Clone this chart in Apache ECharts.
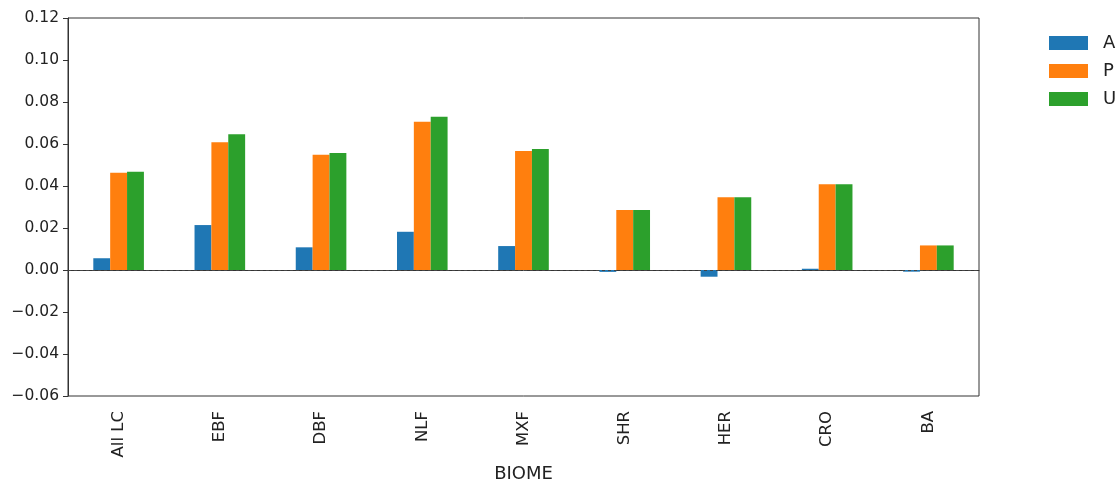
<!DOCTYPE html>
<html>
<head>
<meta charset="utf-8">
<script src="https://cdn.jsdelivr.net/npm/echarts@6/dist/echarts.min.js"></script>
<style>
  html, body { margin: 0; padding: 0; background: #fff; }
  #chart { width: 1118px; height: 479px; }
</style>
</head>
<body>
<div id="chart"></div>
<script>
// Biome categories along the x axis
const biomes = ['All LC', 'EBF', 'DBF', 'NLF', 'MXF', 'SHR', 'HER', 'CRO', 'BA'];

// Series values per biome
const seriesA = [0.0056, 0.0214, 0.0108, 0.0182, 0.0114, -0.0009, -0.0032, 0.0006, -0.0008];
const seriesP = [0.0463, 0.0608, 0.0549, 0.0706, 0.0567, 0.0286, 0.0346, 0.0408, 0.0117];
const seriesU = [0.0468, 0.0646, 0.0557, 0.0730, 0.0576, 0.0286, 0.0346, 0.0408, 0.0117];

const seriesNames = ['A', 'P', 'U'];
const seriesColors = ['#1f77b4', '#ff7f0e', '#2ca02c'];

const font = 'DejaVu Sans';
const chart = echarts.init(document.getElementById('chart'), null, { renderer: 'canvas' });

const makeBar = (name, data, color, withZero) => {
  const s = {
    name: name,
    type: 'bar',
    data: data,
    barGap: '0%',
    barCategoryGap: '50%',
    itemStyle: { color: color },
    emphasis: { disabled: true },
    animation: false
  };
  if (withZero) {
    s.markLine = {
      silent: true,
      symbol: ['none', 'none'],
      label: { show: false },
      lineStyle: { type: [3, 3], color: '#444', width: 1 },
      data: [{ yAxis: 0 }],
      animation: false
    };
  }
  return s;
};

chart.setOption({
  animation: false,
  backgroundColor: '#ffffff',
  grid: {
    left: 68, right: 139, top: 18, bottom: 83,
    outerBoundsMode: 'none',
    containLabel: false,
    show: true, borderColor: '#333', borderWidth: 1, backgroundColor: 'transparent'
  },
  legend: {
    orient: 'vertical',
    left: 1049, top: 34,
    padding: 0,
    itemWidth: 39, itemHeight: 14, itemGap: 10,
    icon: 'rect',
    data: seriesNames,
    textStyle: { fontFamily: font, fontSize: 18, color: '#222', padding: [0, 0, 0, 10] }
  },
  xAxis: {
    type: 'category',
    data: biomes,
    name: 'BIOME',
    nameLocation: 'middle',
    nameGap: 66,
    nameTextStyle: { fontFamily: font, fontSize: 18, color: '#222' },
    axisLine: { lineStyle: { color: '#333', width: 1 } },
    axisTick: { alignWithLabel: true, length: 5, lineStyle: { color: '#333' } },
    axisLabel: { rotate: 90, margin: 15, fontFamily: font, fontSize: 16.5, color: '#222' }
  },
  yAxis: {
    type: 'value',
    min: -0.06, max: 0.12, interval: 0.02,
    axisLine: { show: true, onZero: false, lineStyle: { color: '#333', width: 1 } },
    axisTick: { show: true, length: 5, lineStyle: { color: '#333' } },
    splitLine: { show: false },
    axisLabel: {
      margin: 9, fontFamily: font, fontSize: 15.5, color: '#222',
      formatter: v => (v < 0 ? '\u2212' : '') + Math.abs(v).toFixed(2)
    }
  },
  series: [
    makeBar(seriesNames[0], seriesA, seriesColors[0], true),
    makeBar(seriesNames[1], seriesP, seriesColors[1], false),
    makeBar(seriesNames[2], seriesU, seriesColors[2], false)
  ]
});
</script>
</body>
</html>
